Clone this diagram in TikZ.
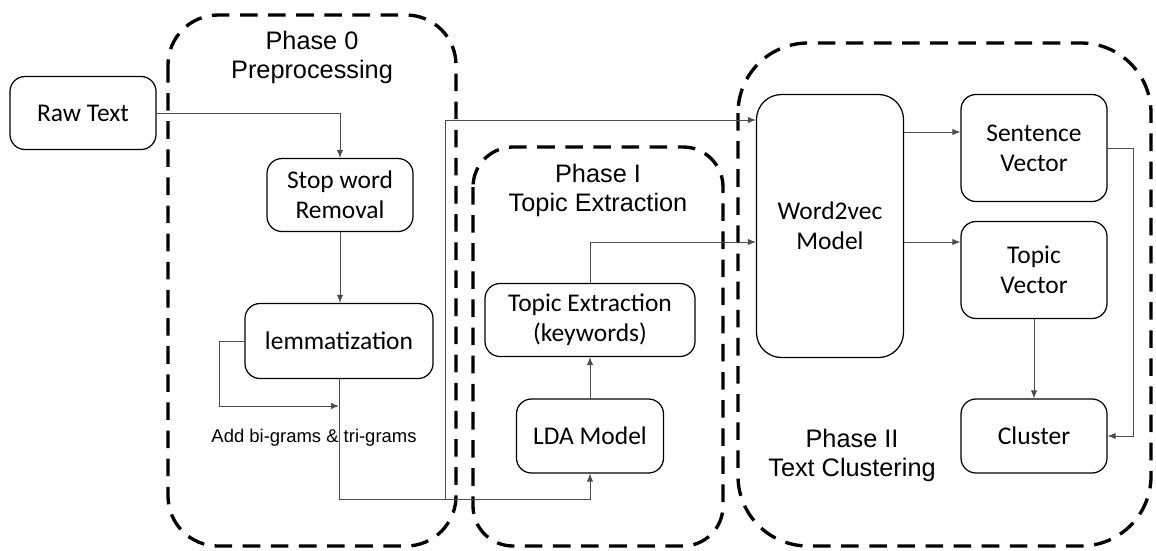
\documentclass[tikz,border=0pt]{standalone}
\usepackage{fontspec}
\setmainfont{Liberation Sans}
\newfontfamily\calfont{Carlito}
\usetikzlibrary{arrows.meta}

\begin{document}
\begin{tikzpicture}[x=0.2mm,y=-0.2mm,>={Latex[length=4.5pt,width=3.6pt]},
  blk/.style={draw,rounded corners=3mm,line width=0.7pt,align=center,inner sep=1pt,
    font=\calfont\fontsize{14.5}{17}\selectfont},
  phase/.style={draw,line width=1.9pt,dash pattern=on 10pt off 6pt},
  lbl/.style={align=center,font=\fontsize{14.4}{16.5}\selectfont},
  conn/.style={->,draw=black!70,line width=0.5pt}]
\useasboundingbox (0,0) rectangle (1156,550);
% phase frames
\draw[phase,rounded corners=10mm] (168,15) rectangle (456,546);
\draw[phase,rounded corners=8mm] (473,147) rectangle (723,546);
\draw[phase,rounded corners=14mm] (738,43) rectangle (1151,546);
\node[lbl] (p0) at (312,57) {Phase 0\\Preprocessing};
\node[lbl] (p1) at (598,190) {Phase I\\Topic Extraction};
\node[lbl] (p2) at (852,455) {Phase II\\Text Clustering};
% boxes
\node[blk,minimum width=29.2mm,minimum height=14.6mm] (raw) at (83,113) {Raw Text};
\node[blk,minimum width=29.2mm,minimum height=14.6mm] (stop) at (340,195) {Stop word\\Removal};
\node[blk,minimum width=37.6mm,minimum height=15mm] (lem) at (339,341) {lemmatization};
\node[font=\fontsize{10.5}{12}\selectfont] (ngr) at (314,438) {Add bi-grams \& tri-grams};
\node[blk,minimum width=42mm,minimum height=14.6mm] (tex) at (590,320) {Topic Extraction\\(keywords)};
\node[blk,minimum width=29.4mm,minimum height=14.8mm] (lda) at (590,436) {LDA Model};
\node[blk,rounded corners=5mm,minimum width=29.4mm,minimum height=52.6mm] (w2v) at (830,226) {Word2vec\\Model};
\node[blk,minimum width=29.2mm,minimum height=21.4mm] (sv) at (1034,148) {Sentence\\Vector};
\node[blk,minimum width=29.2mm,minimum height=19.4mm] (tv) at (1034,270) {Topic\\Vector};
\node[blk,minimum width=29.2mm,minimum height=14.8mm] (cl) at (1034,436) {Cluster};
\coordinate (join) at (339,406);
\coordinate (bend) at (339,499);
\coordinate (split) at (445,499);
% connectors
\draw[conn] (raw) -| (stop);
\draw[conn] (stop.south) -- (stop.south |- lem.north);
\draw[conn] (lem.west) -- ++(-25,0) |- (join);
\draw[conn] (lem.south) -- (bend) -| (lda);
\draw[conn] (split) |- (w2v.west |- 0,120);
\draw[conn] (tex.north) |- (w2v.west |- 0,242);
\draw[conn] (lda) -- (tex);
\draw[conn] (w2v.east |- 0,132) -- (sv.west |- 0,132);
\draw[conn] (w2v.east |- 0,242) -- (tv.west |- 0,242);
\draw[conn] (tv) -- (cl);
\draw[conn] (sv.east) -- ++(26,0) |- (cl.east);
\end{tikzpicture}
\end{document}
